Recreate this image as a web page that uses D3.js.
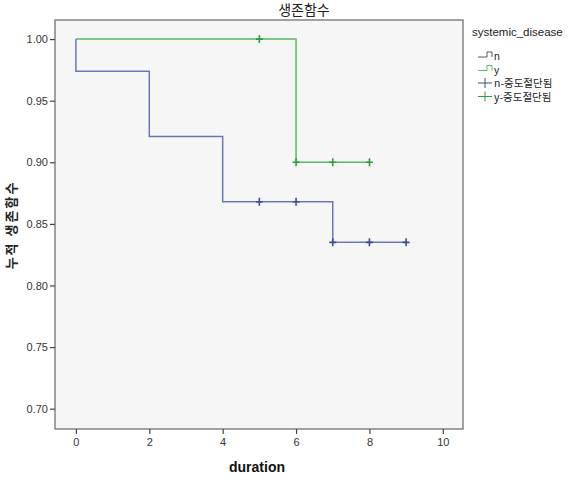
<!DOCTYPE html>
<html>
<head>
<meta charset="utf-8">
<script src="https://cdn.jsdelivr.net/npm/d3@7"></script>
<style>
  body { margin: 0; background: #fff; }
  text { font-family: "Liberation Sans", Arial, "Noto Sans CJK KR", sans-serif; }
  .kr { font-family: "Noto Sans CJK KR", sans-serif; }
</style>
</head>
<body>
<div id="chart"></div>
<script>
// survival steps per group [time, cumulative survival]
const nTimes = [0, 0, 2, 4, 7, 9];
const nSurv = [1.0, 0.974, 0.921, 0.868, 0.835, 0.835];
const yTimes = [0, 6, 8];
const ySurv = [1.0, 0.9, 0.9];

// censored points
const nCensorTimes = [5, 6, 7, 8, 9];
const nCensorSurv = [0.868, 0.868, 0.835, 0.835, 0.835];
const yCensorTimes = [5, 6, 7, 8];
const yCensorSurv = [1.0, 0.9, 0.9, 0.9];

const xTicks = [0, 2, 4, 6, 8, 10];
const yTicks = [0.70, 0.75, 0.80, 0.85, 0.90, 0.95, 1.00];

const legendItems = ["n", "y", "n-중도절단됨", "y-중도절단됨"];

const width = 578, height = 500;
const box = { left: 55, right: 463, top: 20, bottom: 429 };
const blue = "#6a78b8", green = "#5cb866";
const blueDark = "#3c4c8c", greenDark = "#2f9a45";

const svg = d3.select("#chart").append("svg")
  .attr("width", width)
  .attr("height", height);

const x = d3.scaleLinear().domain([-0.57, 10.55]).range([box.left, box.right]);
const y = d3.scaleLinear().domain([0.6835, 1.0155]).range([box.bottom, box.top]);

// plot frame
svg.append("rect")
  .attr("x", box.left)
  .attr("y", box.top)
  .attr("width", box.right - box.left)
  .attr("height", box.bottom - box.top)
  .attr("fill", "#f6f6f6")
  .attr("stroke", "#666")
  .attr("stroke-width", 1.2);

// axes
const xAxis = svg.append("g")
  .attr("transform", `translate(0,${box.bottom})`)
  .call(d3.axisBottom(x).tickValues(xTicks).tickSize(5).tickPadding(4).tickFormat(d3.format("d")));
const yAxis = svg.append("g")
  .attr("transform", `translate(${box.left},0)`)
  .call(d3.axisLeft(y).tickValues(yTicks).tickSize(5).tickPadding(2).tickFormat(d3.format(".2f")));
[xAxis, yAxis].forEach(g => {
  g.select(".domain").remove();
  g.selectAll(".tick line").attr("stroke", "#444").attr("stroke-width", 1.2);
  g.selectAll(".tick text").attr("fill", "#333").style("font-size", "11px");
});

// step lines
const line = d3.line()
  .x(d => x(d[0]))
  .y(d => y(d[1]))
  .curve(d3.curveStepAfter);

svg.append("path")
  .datum(nTimes.map((t, i) => [t, nSurv[i]]))
  .attr("d", line)
  .attr("fill", "none")
  .attr("stroke", blue)
  .attr("stroke-width", 1.5);

svg.append("path")
  .datum(yTimes.map((t, i) => [t, ySurv[i]]))
  .attr("d", line)
  .attr("fill", "none")
  .attr("stroke", green)
  .attr("stroke-width", 1.5);

// censor marks
function crosses(times, surv, color) {
  const g = svg.append("g");
  times.forEach((t, i) => {
    const cx = x(t), cy = y(surv[i]);
    g.append("path")
      .attr("d", `M${cx},${cy - 4}V${cy + 4}M${cx - 3.5},${cy}H${cx + 3.5}`)
      .attr("stroke", color)
      .attr("stroke-width", 1.6);
  });
}
crosses(nCensorTimes, nCensorSurv, blueDark);
crosses(yCensorTimes, yCensorSurv, greenDark);

// titles
svg.append("text")
  .attr("class", "kr")
  .attr("x", 304)
  .attr("y", 15)
  .attr("text-anchor", "middle")
  .style("font-size", "14px")
  .attr("fill", "#222")
  .text("생존함수");

svg.append("text")
  .attr("x", 257)
  .attr("y", 472)
  .attr("text-anchor", "middle")
  .style("font-size", "14px")
  .style("font-weight", "bold")
  .attr("fill", "#111")
  .text("duration");

svg.append("text")
  .attr("class", "kr")
  .attr("transform", "translate(16,225) rotate(-90)")
  .attr("text-anchor", "middle")
  .style("font-size", "13px")
  .style("font-weight", "bold")
  .style("letter-spacing", "2px")
  .attr("fill", "#222")
  .text("누적 생존함수");

// legend
const legend = svg.append("g").attr("transform", "translate(470,0)");
legend.append("text")
  .attr("x", 2)
  .attr("y", 36)
  .style("font-size", "11.5px")
  .attr("fill", "#222")
  .text("systemic_disease");

const legendColors = [blue, green, blueDark, greenDark];
legendItems.forEach((label, i) => {
  const ly = 57 + i * 13.5;
  const g = legend.append("g").attr("transform", `translate(8,${ly})`);
  if (i < 2) {
    g.append("path")
      .attr("d", "M0,0H9V-5H14V0")
      .attr("fill", "none")
      .attr("stroke", i === 0 ? "#556" : legendColors[i])
      .attr("stroke-width", 1);
  } else {
    g.append("path")
      .attr("d", "M0,-1H14M7,-6V4")
      .attr("stroke", legendColors[i])
      .attr("stroke-width", 1);
  }
  g.append("text")
    .attr("class", i >= 2 ? "kr" : null)
    .attr("x", 16)
    .attr("y", 3)
    .style("font-size", "10.5px")
    .attr("fill", "#222")
    .text(label);
});
</script>
</body>
</html>
